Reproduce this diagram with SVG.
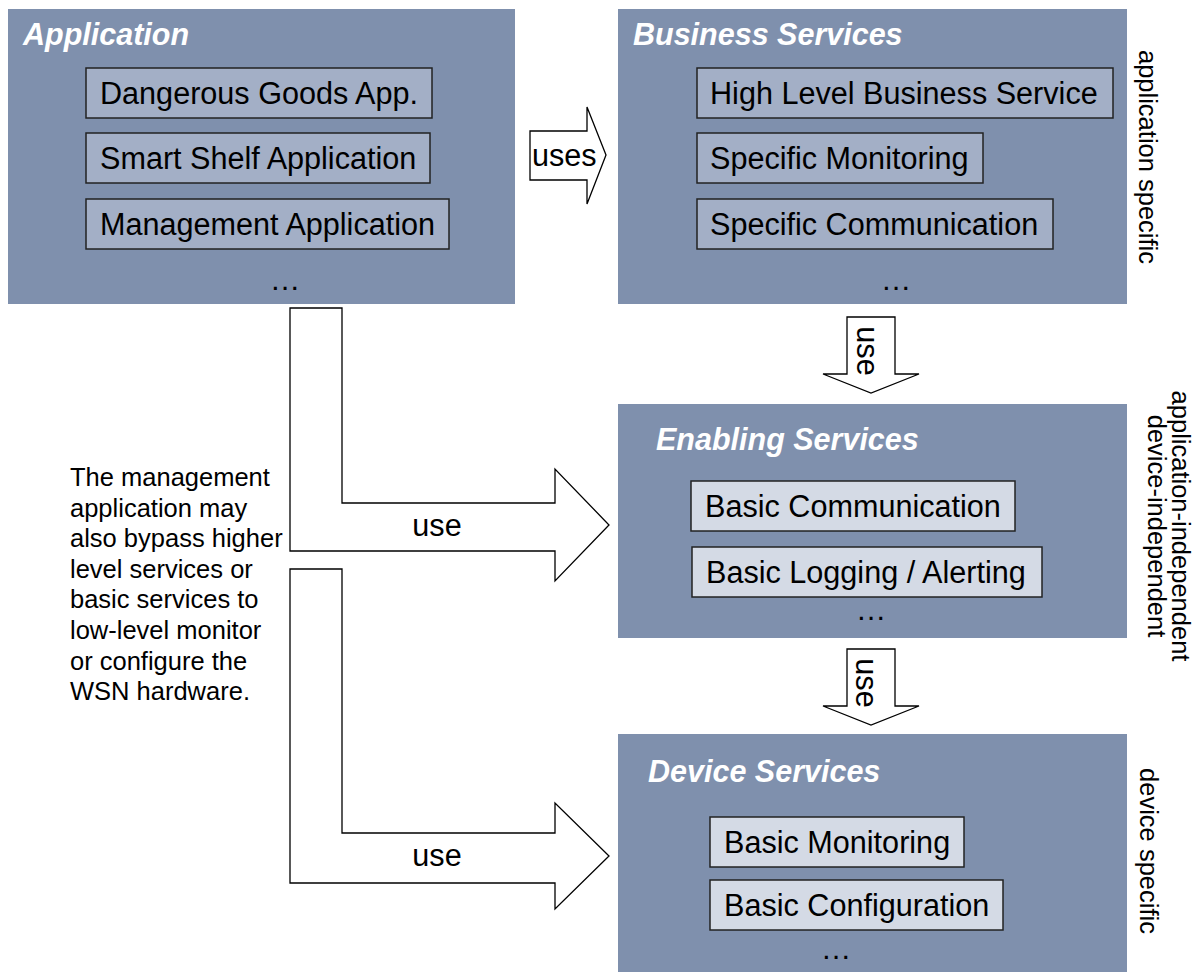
<svg xmlns="http://www.w3.org/2000/svg" width="1195" height="972" viewBox="0 0 1195 972">
<style>
.box{fill:#7f90ad}
.sub1{fill:#a3afc6;stroke:#222;stroke-width:1.5}
.sub2{fill:#d4dae5;stroke:#222;stroke-width:1.5}
.title{font-family:"Liberation Sans",Arial,sans-serif;font-style:italic;font-weight:bold;font-size:30.5px;fill:#fff}
.t{font-family:"Liberation Sans",Arial,sans-serif;font-size:30.6px;fill:#000}
.s{font-family:"Liberation Sans",Arial,sans-serif;font-size:25.5px;fill:#000}
.mid{text-anchor:middle}
.arrow{fill:#fff;stroke:#000;stroke-width:1.3;stroke-linejoin:miter}
</style>
<rect width="1195" height="972" fill="#fff"/>

<g id="application">
<rect class="box" x="8" y="9" width="507" height="295"/>
<text class="title" x="23" y="45">Application</text>
<rect class="sub1" x="86" y="68" width="346" height="50"/>
<text class="t" x="100" y="104">Dangerous Goods App.</text>
<rect class="sub1" x="86" y="133" width="344" height="50"/>
<text class="t" x="100" y="169">Smart Shelf Application</text>
<rect class="sub1" x="86" y="199" width="363" height="50"/>
<text class="t" x="100" y="235">Management Application</text>
<text class="t mid" x="285" y="290">…</text>
</g>

<g id="business-services">
<rect class="box" x="618" y="9" width="509" height="295"/>
<text class="title" x="633" y="45">Business Services</text>
<rect class="sub1" x="697" y="68" width="416" height="50"/>
<text class="t" x="710" y="104">High Level Business Service</text>
<rect class="sub1" x="697" y="133" width="286" height="50"/>
<text class="t" x="710" y="169">Specific Monitoring</text>
<rect class="sub1" x="697" y="199" width="356" height="50"/>
<text class="t" x="710" y="235">Specific Communication</text>
<text class="t mid" x="896" y="290">…</text>
</g>

<g id="enabling-services">
<rect class="box" x="618" y="404" width="509" height="234"/>
<text class="title" x="656" y="450">Enabling Services</text>
<rect class="sub2" x="691" y="481" width="324" height="50"/>
<text class="t" x="705" y="517">Basic Communication</text>
<rect class="sub2" x="692" y="547" width="350" height="50"/>
<text class="t" x="706" y="583">Basic Logging / Alerting</text>
<text class="t mid" x="871" y="620">…</text>
</g>

<g id="device-services">
<rect class="box" x="618" y="734" width="509" height="238"/>
<text class="title" x="648" y="782">Device Services</text>
<rect class="sub2" x="710" y="817" width="254" height="50"/>
<text class="t" x="724" y="853">Basic Monitoring</text>
<rect class="sub2" x="710" y="880" width="293" height="50"/>
<text class="t" x="724" y="916">Basic Configuration</text>
<text class="t mid" x="836" y="959">…</text>
</g>

<g id="layer-labels">
<text class="s mid" transform="translate(1139,157) rotate(90)">application specific</text>
<text class="s mid" transform="translate(1172,526) rotate(90)">application-independent</text>
<text class="s mid" transform="translate(1148,526) rotate(90)">device-independent</text>
<text class="s mid" transform="translate(1140,851) rotate(90)">device specific</text>
</g>

<g id="note">
<text class="s" x="70" y="486">The management</text>
<text class="s" x="70" y="517">application may</text>
<text class="s" x="70" y="547">also bypass higher</text>
<text class="s" x="70" y="578">level services or</text>
<text class="s" x="70" y="608">basic services to</text>
<text class="s" x="70" y="639">low-level monitor</text>
<text class="s" x="70" y="670">or configure the</text>
<text class="s" x="70" y="700">WSN hardware.</text>
</g>

<g id="connectors">
<polygon class="arrow" points="530,131 587,131 587,107 606,155 587,204 587,180 530,180"/>
<text class="t" x="532" y="166">uses</text>

<polygon class="arrow" points="847,317 895,317 895,374 919,374 871,393 823,374 847,374"/>
<text class="t mid" transform="translate(857,351) rotate(90)">use</text>

<polygon class="arrow" points="847,649 895,649 895,706 919,706 871,725 823,706 847,706"/>
<text class="t mid" transform="translate(856,683) rotate(90)">use</text>

<polygon class="arrow" points="290,308 342,308 342,503 555,503 555,469 609,525 555,581 555,551 290,551"/>
<text class="t mid" x="437" y="536">use</text>

<polygon class="arrow" points="290,569 342,569 342,833 555,833 555,803 609,856 555,909 555,883 290,883"/>
<text class="t mid" x="437" y="866">use</text>
</g>
</svg>
